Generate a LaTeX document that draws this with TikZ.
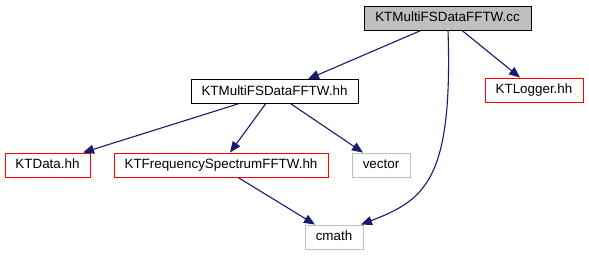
\documentclass[tikz,border=0pt]{standalone}
\usepackage{fontspec}
\setmainfont{Liberation Sans}
\usetikzlibrary{arrows.meta}
\definecolor{edgeblue}{RGB}{25,25,112}
\definecolor{boxgray}{RGB}{191,191,191}
\begin{document}
\begin{tikzpicture}[x=1pt,y=-1pt,
  filebox/.style={draw, line width=0.9pt, inner sep=0pt, minimum height=24pt,
    font=\fontsize{13.4}{15}\selectfont, text height=9.5pt, text depth=2pt},
  mainfile/.style={filebox, draw=black, fill=boxgray},
  localhdr/.style={filebox, draw=black, fill=white},
  linkedhdr/.style={filebox, draw=red, fill=white},
  syshdr/.style={filebox, draw=boxgray, fill=white},
  dep/.style={draw=edgeblue, line width=1.1pt, -{Triangle[length=11pt,width=9pt]}, fill=none}
]
\useasboundingbox (0,0) rectangle (589,256);

\node[mainfile,  minimum width=167pt] (cc)     at (447.5,18)  {KTMultiFSDataFFTW.cc};
\node[linkedhdr, minimum width=98pt]  (logger) at (534,90)    {KTLogger.hh};
\node[localhdr,  minimum width=167pt] (hh)     at (274.5,91.5){KTMultiFSDataFFTW.hh};
\node[linkedhdr, minimum width=85pt]  (data)   at (47.5,165)  {KTData.hh};
\node[linkedhdr, minimum width=214pt] (freq)   at (221,165)   {KTFrequencySpectrumFFTW.hh};
\node[syshdr,    minimum width=58pt]  (vector) at (381,165)   {vector};
\node[syshdr,    minimum width=58pt]  (cmath)  at (334,237)   {cmath};

% includes of the source file
\draw[dep] ([xshift=-26.5pt]cc.south) -- ([xshift=33.5pt]hh.north);
\draw[dep] ([xshift=14.5pt]cc.south) -- ([xshift=-14pt]logger.north);
\draw[dep] ([xshift=0.5pt]cc.south) .. controls (453,180) and (425,200) .. ([xshift=27pt]cmath.north);

% includes of the header
\draw[dep] ([xshift=-36.5pt]hh.south) -- ([xshift=35.5pt]data.north);
\draw[dep] ([xshift=-9pt]hh.south) -- ([xshift=9pt]freq.north);
\draw[dep] ([xshift=16.5pt]hh.south) -- ([xshift=-18pt]vector.north);

% includes of the spectrum header
\draw[dep] ([xshift=17pt]freq.south) -- ([xshift=-19pt]cmath.north);
\end{tikzpicture}
\end{document}
